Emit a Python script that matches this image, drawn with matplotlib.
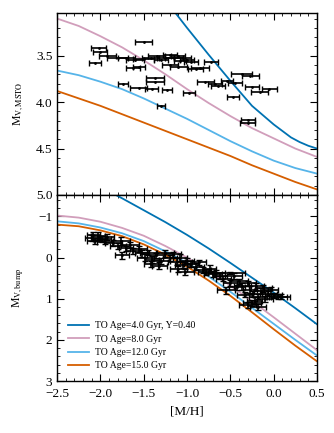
import numpy as np
import matplotlib
matplotlib.use("Agg")
import matplotlib.pyplot as plt
from matplotlib.ticker import MultipleLocator

plt.rcParams['font.family'] = ['Liberation Serif', 'DejaVu Serif']
plt.rcParams['mathtext.fontset'] = 'stix'

# isochrone tracks: [M/H] grid and magnitudes
mh_grid = [-2.5, -2.25, -2.0, -1.75, -1.5, -1.25, -1.0, -0.75, -0.5, -0.25, 0.0, 0.25, 0.5]
mh_blue_top = [-1.25, -1.0, -0.75, -0.5, -0.25, 0.0, 0.1, 0.2, 0.3, 0.4, 0.5]
msto_blue = [2.90, 3.20, 3.49, 3.77, 4.04, 4.24, 4.31, 4.38, 4.43, 4.47, 4.50]
msto_pink = [3.10, 3.18, 3.29, 3.41, 3.55, 3.70, 3.86, 4.01, 4.15, 4.28, 4.39, 4.50, 4.59]
msto_lblue = [3.66, 3.71, 3.78, 3.86, 3.96, 4.07, 4.18, 4.30, 4.42, 4.53, 4.63, 4.71, 4.77]
msto_orange = [3.88, 3.96, 4.04, 4.13, 4.22, 4.31, 4.40, 4.49, 4.58, 4.68, 4.77, 4.86, 4.94]

mh_blue_bot = [-2.0, -1.75, -1.5, -1.25, -1.0, -0.75, -0.5, -0.25, 0.0, 0.25, 0.5]
bump_blue = [-1.72, -1.44, -1.15, -0.86, -0.55, -0.22, 0.13, 0.49, 0.85, 1.23, 1.62]
bump_pink = [-1.02, -0.97, -0.87, -0.72, -0.53, -0.28, 0.00, 0.33, 0.68, 1.06, 1.45, 1.85, 2.25]
bump_lblue = [-0.88, -0.83, -0.73, -0.59, -0.40, -0.15, 0.13, 0.46, 0.83, 1.22, 1.61, 2.00, 2.38]
bump_orange = [-0.80, -0.76, -0.66, -0.52, -0.32, -0.07, 0.22, 0.56, 0.93, 1.33, 1.74, 2.14, 2.52]

labels = ["TO Age=4.0 Gyr, Y=0.40", "TO Age=8.0 Gyr", "TO Age=12.0 Gyr", "TO Age=15.0 Gyr"]
colors = ["#0072B2", "#D19EBB", "#56B4E9", "#D55E00"]

# MSTO measurements
to_mh = [-1.50, -2.02, -2.00, -2.06, -1.92, -1.80, -1.70, -1.60, -1.50, -1.42,
         -1.35, -1.30, -1.25, -1.20, -1.15, -1.10, -1.08, -1.05, -1.00, -0.95,
         -1.62, -1.55, -1.20, -1.10, -0.90, -1.37, -1.37, -1.74, -1.56, -1.41,
         -1.23, -1.30, -0.98, -0.79, -0.68, -0.54, -0.64, -0.45, -0.47, -0.37,
         -0.27, -0.16, -0.05, -0.25, -0.30, -0.30, -0.85, -0.72]
to_mv = [3.35, 3.42, 3.46, 3.58, 3.50, 3.52, 3.53, 3.55, 3.54, 3.52,
         3.50, 3.55, 3.52, 3.49, 3.53, 3.50, 3.56, 3.52, 3.55, 3.57,
         3.63, 3.62, 3.60, 3.62, 3.64, 3.74, 3.78, 3.81, 3.85, 3.86,
         3.87, 4.04, 3.90, 3.78, 3.80, 3.77, 3.83, 3.79, 3.94, 3.70,
         3.72, 3.89, 3.86, 3.84, 4.19, 4.23, 3.63, 3.57]
to_err = [0.10, 0.09, 0.08, 0.07, 0.10, 0.12, 0.10, 0.10, 0.12, 0.10,
          0.10, 0.08, 0.10, 0.08, 0.10, 0.08, 0.07, 0.10, 0.08, 0.08,
          0.08, 0.07, 0.09, 0.10, 0.09, 0.10, 0.10, 0.06, 0.10, 0.08,
          0.06, 0.05, 0.07, 0.10, 0.08, 0.07, 0.08, 0.08, 0.07, 0.12,
          0.10, 0.10, 0.09, 0.08, 0.08, 0.09, 0.10, 0.08]

# RGB bump measurements
bp_mh = [-2.10, -2.06, -2.03, -1.98, -1.95, -1.92, -2.08,
         -1.85, -1.80, -1.76, -1.70, -1.66, -1.62, -1.75,
         -1.56, -1.52, -1.48, -1.45, -1.40, -1.36, -1.32, -1.30, -1.42,
         -1.25, -1.20, -1.16, -1.12, -1.08, -1.05, -1.02, -1.00, -1.10,
         -0.95, -0.90, -0.86, -0.82, -0.78, -0.74, -0.70,
         -0.66, -0.62, -0.58, -0.55, -0.50, -0.46, -0.42, -0.40,
         -0.36, -0.33, -0.30, -0.27, -0.24, -0.20, -0.18, -0.15, -0.12,
         -0.10, -0.06, -0.03, 0.00, 0.05, -0.22, -0.30, 0.08, -0.18, -0.25, -0.50]
bp_mv = [-0.47, -0.40, -0.52, -0.45, -0.38, -0.50, -0.55,
         -0.35, -0.28, -0.40, -0.22, -0.30, -0.15, -0.05,
         -0.20, -0.10, 0.00, -0.12, 0.05, -0.05, 0.20, 0.08, 0.15,
         -0.10, 0.02, -0.08, 0.10, 0.00, 0.18, 0.35, 0.08, 0.28,
         0.15, 0.22, 0.12, 0.30, 0.35, 0.28, 0.40,
         0.38, 0.45, 0.52, 0.80, 0.62, 0.45, 0.72, 0.58,
         0.70, 0.90, 0.62, 0.78, 0.88, 0.70, 0.95, 0.82, 0.75,
         1.00, 0.88, 0.80, 0.92, 0.95, 1.05, 1.15, 0.95, 1.20, 1.10, 0.37]
bp_xerr = [0.08, 0.10, 0.08, 0.10, 0.09, 0.08, 0.07,
           0.10, 0.09, 0.10, 0.08, 0.10, 0.09, 0.08,
           0.10, 0.08, 0.10, 0.09, 0.08, 0.10, 0.09, 0.10, 0.08,
           0.10, 0.08, 0.09, 0.10, 0.08, 0.09, 0.10, 0.08, 0.10,
           0.09, 0.10, 0.08, 0.10, 0.09, 0.08, 0.10,
           0.10, 0.08, 0.09, 0.10, 0.08, 0.10, 0.09, 0.10,
           0.10, 0.09, 0.10, 0.08, 0.10, 0.09, 0.10, 0.08, 0.10,
           0.09, 0.10, 0.08, 0.10, 0.10, 0.09, 0.10, 0.11, 0.09, 0.10, 0.17]
bp_yerr = [0.08, 0.07, 0.09, 0.08, 0.06, 0.08, 0.07,
           0.08, 0.07, 0.09, 0.06, 0.08, 0.07, 0.08,
           0.07, 0.09, 0.08, 0.06, 0.08, 0.07, 0.09, 0.08, 0.07,
           0.08, 0.07, 0.06, 0.08, 0.09, 0.07, 0.08, 0.06, 0.08,
           0.07, 0.08, 0.06, 0.07, 0.08, 0.09, 0.07,
           0.08, 0.07, 0.06, 0.08, 0.07, 0.08, 0.06, 0.07,
           0.08, 0.07, 0.06, 0.08, 0.07, 0.08, 0.06, 0.07, 0.08,
           0.07, 0.06, 0.08, 0.07, 0.06, 0.08, 0.07, 0.06, 0.08, 0.07, 0.03]

fig = plt.figure(figsize=(3.34, 4.33), dpi=100)
ax1 = fig.add_axes([0.171, 0.5497, 0.778, 0.4203])
ax2 = fig.add_axes([0.171, 0.120, 0.778, 0.4297], sharex=ax1)

ax1.plot(mh_blue_top, msto_blue, color=colors[0], lw=1.3)
for yy, c in zip([msto_pink, msto_lblue, msto_orange], colors[1:]):
    ax1.plot(mh_grid, yy, color=c, lw=1.3)
ax1.errorbar(to_mh, to_mv, xerr=to_err, fmt='.', ms=2, color='k',
             ecolor='k', elinewidth=1.2, capsize=2.5, capthick=1.0, zorder=3)

ax2.plot(mh_blue_bot, bump_blue, color=colors[0], lw=1.3, label=labels[0])
for yy, c, lab in zip([bump_pink, bump_lblue, bump_orange], colors[1:], labels[1:]):
    ax2.plot(mh_grid, yy, color=c, lw=1.3, label=lab)
ax2.errorbar(bp_mh, bp_mv, xerr=bp_xerr, yerr=bp_yerr, fmt='.', ms=2, color='k',
             ecolor='k', elinewidth=1.2, capsize=2.5, capthick=1.0, zorder=3)

ax1.set_xlim(-2.5, 0.5)
ax1.set_ylim(5.0, 3.04)
ax2.set_ylim(3.0, -1.52)

ax1.xaxis.set_major_locator(MultipleLocator(0.5))
ax1.xaxis.set_minor_locator(MultipleLocator(0.1))
ax1.yaxis.set_major_locator(MultipleLocator(0.5))
ax1.yaxis.set_minor_locator(MultipleLocator(0.1))
ax2.yaxis.set_major_locator(MultipleLocator(1))
ax2.yaxis.set_minor_locator(MultipleLocator(0.2))

for ax in (ax1, ax2):
    ax.tick_params(which='both', direction='in', top=True, right=True, labelsize=9.5)
    ax.tick_params(which='major', length=5, width=0.8)
    ax.tick_params(which='minor', length=2.5, width=0.6)
    for s in ax.spines.values():
        s.set_linewidth(1.0)
ax1.tick_params(labelbottom=False)
ax2.tick_params(axis='x', pad=5)

ax2.set_xticks([-2.5, -2.0, -1.5, -1.0, -0.5, 0.0, 0.5])
ax2.set_xticklabels(['\u22122.5', '\u22122.0', '\u22121.5', '\u22121.0', '\u22120.5', '0.0', '0.5'])

ax1.set_ylabel(r'M$_{\mathrm{V,MSTO}}$', fontsize=8.5, labelpad=7)
ax2.set_ylabel(r'M$_{\mathrm{V,bump}}$', fontsize=8.5, labelpad=9)
ax2.set_xlabel('[M/H]', fontsize=9.5, labelpad=4)

ax2.legend(loc='lower left', frameon=False, fontsize=7, handlelength=2.2,
           handletextpad=0.6, labelspacing=0.45, borderaxespad=0.7)

fig.savefig('out.png', dpi=100)
